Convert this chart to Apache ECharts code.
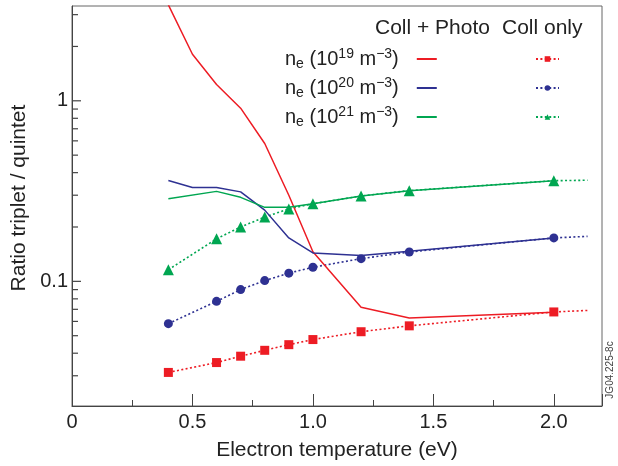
<!DOCTYPE html>
<html>
<head>
<meta charset="utf-8">
<script src="https://cdn.jsdelivr.net/npm/echarts@6/dist/echarts.min.js"></script>
<style>
  html, body { margin: 0; padding: 0; background: #fff; }
  #chart { width: 618px; height: 466px; }
</style>
</head>
<body>
<div id="chart"></div>
<script>
  // Coll + Photo (solid lines)
  const tPhoto = [0.4, 0.5, 0.6, 0.7, 0.8, 0.9, 1.0, 1.2, 1.4, 2.0];
  const photo19 = [3.4, 1.81, 1.23, 0.91, 0.58, 0.30, 0.146, 0.0718, 0.0627, 0.0675];
  const photo20 = [0.362, 0.331, 0.331, 0.313, 0.248, 0.174, 0.1436, 0.139, 0.1466, 0.174];
  const photo21 = [0.287, null, 0.315, 0.292, 0.257, 0.257, 0.269, 0.297, 0.318, 0.361];

  // Coll only (dotted lines with markers); last point is the unmarked tail
  const tColl = [0.4, 0.6, 0.7, 0.8, 0.9, 1.0, 1.2, 1.4, 2.0, 2.14];
  const coll19 = [0.0313, 0.0355, 0.0385, 0.0415, 0.0446, 0.0476, 0.0526, 0.0567, 0.0677, 0.069];
  const coll20 = [0.0583, 0.0775, 0.090, 0.101, 0.111, 0.1197, 0.1336, 0.1455, 0.174, 0.1775];
  const coll21 = [0.116, 0.172, 0.200, 0.227, 0.252, 0.269, 0.297, 0.318, 0.361, 0.363];

  const yMajor = [0.1, 1];
  const yMinor = [0.03, 0.04, 0.05, 0.06, 0.07, 0.08, 0.09,
                  0.2, 0.3, 0.4, 0.5, 0.6, 0.7, 0.8, 0.9, 2, 3];

  const RED = '#ed1c24';
  const BLUE = '#2e3192';
  const GREEN = '#00a651';
  const FONT = '"Liberation Sans", Arial, sans-serif';
  const AXIS = '#444';

  const pair = (xs, ys) => xs.map((x, i) => [x, ys[i]]);
  const collPoints = (ys) => tColl.map((x, i) =>
    i === tColl.length - 1 ? { value: [x, ys[i]], symbol: 'none' } : [x, ys[i]]);

  function solid(name, ys, color) {
    return {
      name, type: 'line', data: pair(tPhoto, ys), symbol: 'none',
      connectNulls: true, clip: true, z: 3,
      lineStyle: { color, width: 1.5 }, itemStyle: { color }
    };
  }
  function dotted(name, ys, color, symbol, size) {
    return {
      name, type: 'line', data: collPoints(ys), symbol, symbolSize: size,
      clip: true, z: 2,
      lineStyle: { color, width: 1.6, type: [2, 2.4] }, itemStyle: { color }
    };
  }
  // inward ticks on the log axis, placed by the axis itself
  function yTicks(values, len) {
    return {
      type: 'custom', silent: true, clip: false, z: 10,
      data: values.map((v) => [0, v]),
      renderItem: (params, api) => {
        const p = api.coord([0, api.value(1)]);
        return {
          type: 'line',
          shape: { x1: p[0], y1: p[1], x2: p[0] + len, y2: p[1] },
          style: { stroke: AXIS, lineWidth: 1.2 }
        };
      }
    };
  }

  const labelNames = {
    p19: 'n{sub|e} (10{sup|19} m{sup|\u22123})',
    p20: 'n{sub|e} (10{sup|20} m{sup|\u22123})',
    p21: 'n{sub|e} (10{sup|21} m{sup|\u22123})'
  };

  const chart = echarts.init(document.getElementById('chart'), null, { renderer: 'canvas' });
  chart.setOption({
    animation: false,
    grid: { left: 72, top: 6, right: 16, bottom: 59, show: true, borderColor: '#666', borderWidth: 1 },
    xAxis: {
      type: 'value', min: 0, max: 2.2, interval: 0.5,
      name: 'Electron temperature (eV)', nameLocation: 'middle', nameGap: 34,
      nameTextStyle: { fontFamily: FONT, fontSize: 21, color: '#222' },
      axisLine: { lineStyle: { color: AXIS, width: 1 } },
      axisTick: { show: true, inside: true, length: 12, lineStyle: { color: AXIS } },
      minorTick: { show: true, splitNumber: 2, length: 6, lineStyle: { color: AXIS } },
      axisLabel: {
        fontFamily: FONT, fontSize: 20, color: '#222', margin: 6, showMaxLabel: false,
        formatter: (v) => (v === 0 ? '0' : v.toFixed(1))
      },
      splitLine: { show: false }
    },
    yAxis: {
      type: 'log', logBase: 10, min: 0.0204, max: 3.35,
      name: 'Ratio triplet / quintet', nameLocation: 'middle', nameGap: 30,
      nameTextStyle: { fontFamily: FONT, fontSize: 21, color: '#222', padding: [0, 0, 0, 16] },
      axisLine: { show: true, lineStyle: { color: AXIS, width: 1 } },
      axisTick: { show: false },
      axisLabel: {
        fontFamily: FONT, fontSize: 20, color: '#222', margin: 4, customValues: yMajor,
        formatter: (v) => (Math.abs(v - 1) < 1e-9 ? '1' : '0.1')
      },
      splitLine: { show: false }
    },
    legend: [{
      data: [
        { name: 'p19', icon: 'rect' },
        { name: 'p20', icon: 'rect' },
        { name: 'p21', icon: 'rect' }
      ],
      orient: 'vertical', align: 'right',
      left: 280, top: 42, itemWidth: 20, itemHeight: 2, itemGap: 5,
      selectedMode: false,
      formatter: (n) => labelNames[n],
      textStyle: {
        fontFamily: FONT, fontSize: 20, color: '#222', lineHeight: 24, padding: [0, 13, 0, 0],
        rich: {
          sub: { fontFamily: FONT, fontSize: 14, lineHeight: 24, verticalAlign: 'bottom', color: '#222' },
          sup: { fontFamily: FONT, fontSize: 14, lineHeight: 24, verticalAlign: 'top', color: '#222' }
        }
      }
    }, {
      data: ['c19', 'c20', 'c21'], orient: 'vertical',
      left: 530, top: 42, itemWidth: 23, itemHeight: 7, itemGap: 5,
      selectedMode: false,
      formatter: () => ' ',
      textStyle: { fontFamily: FONT, fontSize: 20, lineHeight: 24 }
    }],
    graphic: [
      { type: 'text', left: 375, top: 18, style: { text: 'Coll + Photo', font: '21px ' + FONT, fill: '#222' } },
      { type: 'text', left: 502, top: 18, style: { text: 'Coll only', font: '21px ' + FONT, fill: '#222' } },
      {
        type: 'text', x: 610, y: 370, rotation: Math.PI / 2,
        style: { text: 'JG04.225-8c', font: '10px ' + FONT, fill: '#444', align: 'center', verticalAlign: 'middle' }
      }
    ],
    series: [
      yTicks(yMajor, 9),
      yTicks(yMinor, 6),
      dotted('c19', coll19, RED, 'rect', 9),
      dotted('c20', coll20, BLUE, 'circle', 9),
      dotted('c21', coll21, GREEN, 'triangle', 11),
      solid('p19', photo19, RED),
      solid('p20', photo20, BLUE),
      solid('p21', photo21, GREEN)
    ]
  });
</script>
</body>
</html>
